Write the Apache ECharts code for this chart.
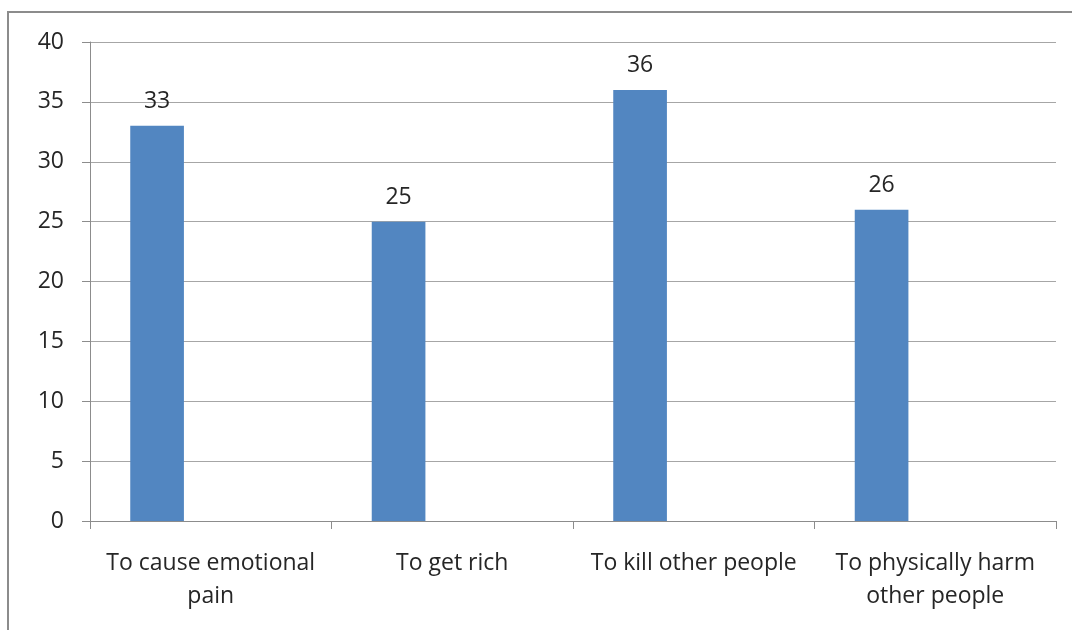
<!DOCTYPE html>
<html>
<head>
<meta charset="utf-8">
<script src="https://cdn.jsdelivr.net/npm/echarts@6/dist/echarts.min.js"></script>
<style>
  html, body { margin: 0; padding: 0; background: #ffffff; }
  #chart { width: 1072px; height: 630px; }
</style>
</head>
<body>
<div id="chart"></div>
<script>
// Reasons given, and how many respondents chose each
const categories = [
  'To cause emotional\npain',
  'To get rich',
  'To kill other people',
  'To physically harm\nother people'
];
const responses = [33, 25, 36, 26];
// Two unused series slots keep each bar in the left third of its cluster
const unusedSlotA = [null, null, null, null];
const unusedSlotB = [null, null, null, null];
const yTicks = { min: 0, max: 40, interval: 5 };

const textColor = '#262626';
const fontFamily = '"Open Sans", Lato, sans-serif';

const chart = echarts.init(document.getElementById('chart'), null, { renderer: 'canvas' });

chart.setOption({
  animation: false,
  backgroundColor: '#ffffff',
  graphic: [{
    type: 'rect',
    shape: { x: 8, y: 12, width: 1200, height: 800 },
    style: { fill: 'none', stroke: '#8c8c8c', lineWidth: 2 },
    silent: true
  }],
  grid: { left: 90, right: 16, top: 42, bottom: 109, containLabel: false },
  xAxis: {
    type: 'category',
    data: categories,
    axisLine: { show: true, lineStyle: { color: '#8c8c8c', width: 1 } },
    axisTick: { show: true, length: 8, lineStyle: { color: '#8c8c8c' } },
    axisLabel: {
      color: textColor,
      fontFamily: fontFamily,
      fontSize: 23,
      lineHeight: 33,
      margin: 26,
      interval: 0
    },
    splitLine: { show: false }
  },
  yAxis: {
    type: 'value',
    min: yTicks.min,
    max: yTicks.max,
    interval: yTicks.interval,
    axisLine: { show: true, lineStyle: { color: '#8c8c8c', width: 1 } },
    axisTick: { show: true, length: 8, lineStyle: { color: '#8c8c8c' } },
    axisLabel: {
      color: textColor,
      fontFamily: fontFamily,
      fontSize: 23,
      margin: 26
    },
    splitLine: { show: true, lineStyle: { color: '#a6a6a6', width: 1 } }
  },
  series: [
    {
      name: 'Responses',
      type: 'bar',
      data: responses,
      barGap: '0%',
      barCategoryGap: '33.33%',
      itemStyle: { color: '#5286c1' },
      label: {
        show: true,
        position: 'top',
        distance: 13,
        color: textColor,
        fontFamily: fontFamily,
        fontSize: 23
      }
    },
    { name: 'Slot A', type: 'bar', data: unusedSlotA },
    { name: 'Slot B', type: 'bar', data: unusedSlotB }
  ]
});
</script>
</body>
</html>
